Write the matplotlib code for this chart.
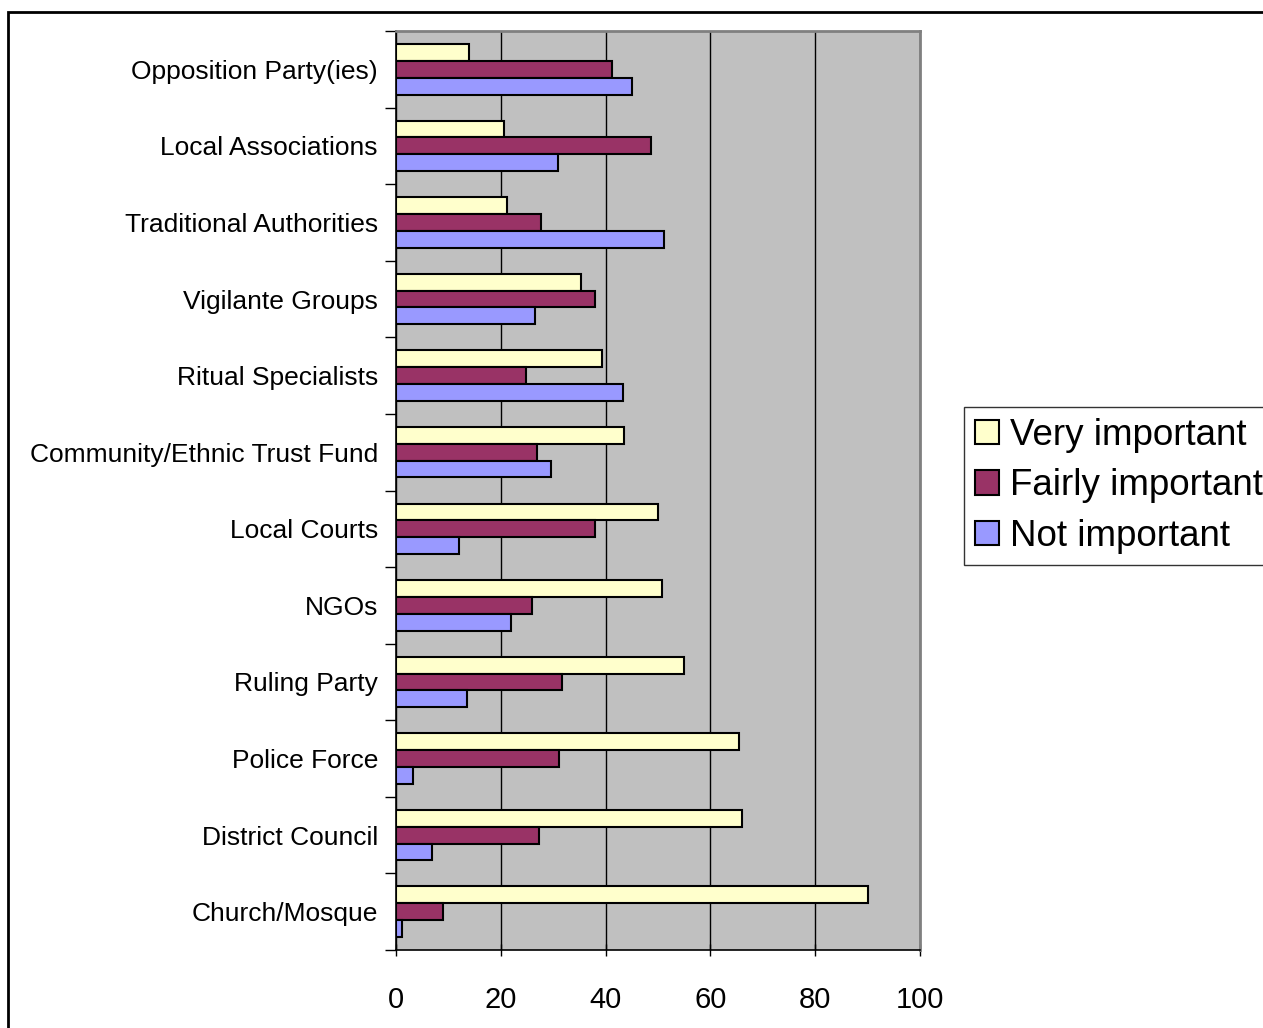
import matplotlib.pyplot as plt
import numpy as np
from matplotlib.patches import Rectangle

plt.rcParams["font.family"] = ["Liberation Sans", "DejaVu Sans"]

# bottom-to-top order on the y axis
categories = [
    "Church/Mosque",
    "District Council",
    "Police Force",
    "Ruling Party",
    "NGOs",
    "Local Courts",
    "Community/Ethnic Trust Fund",
    "Ritual Specialists",
    "Vigilante Groups",
    "Traditional Authorities",
    "Local Associations",
    "Opposition Party(ies)",
]
very_important = [90.1, 66.0, 65.5, 55.0, 50.8, 50.0, 43.6, 39.4, 35.4, 21.2, 20.6, 13.9]
fairly_important = [8.9, 27.3, 31.2, 31.6, 26.0, 38.0, 27.0, 24.8, 38.0, 27.7, 48.6, 41.2]
not_important = [1.1, 6.8, 3.2, 13.5, 22.0, 12.1, 29.5, 43.3, 26.6, 51.1, 30.9, 45.1]

series = [
    ("Very important", very_important, "#FFFFCC"),
    ("Fairly important", fairly_important, "#993366"),
    ("Not important", not_important, "#9999FF"),
]

W, H = 1263, 1028
fig = plt.figure(figsize=(W / 100, H / 100), dpi=100)

# outer chart frame, runs off the right and bottom edges
fig.patches.append(Rectangle((8 / W, -0.1), 1.2, 1 - 12 / H + 0.1,
                             transform=fig.transFigure, fill=False,
                             edgecolor="black", linewidth=2))

ax = fig.add_axes([396 / W, 1 - 950 / H, (920 - 396) / W, (950 - 31) / H])
ax.set_facecolor("#C0C0C0")

y = np.arange(len(categories))
h = 0.22
for i, (label, vals, color) in enumerate(series):
    ax.barh(y + h * (1 - i), vals, height=h, color=color, edgecolor="black",
            linewidth=1.5, label=label, zorder=3)

ax.set_xlim(0, 100)
ax.set_ylim(-0.5, len(categories) - 0.5)
ax.set_xticks(range(0, 101, 20))
ax.tick_params(axis="x", labelsize=21, length=8, width=1, direction="inout", pad=22)
ax.set_yticks(y)
ax.set_yticklabels(categories, fontsize=19)
ax.tick_params(axis="y", length=0, pad=13)
ax.set_yticks(np.arange(-0.5, len(categories), 1), minor=True)
ax.tick_params(axis="y", which="minor", length=8, width=1, direction="out")
ax.xaxis.grid(True, color="black", linewidth=1, zorder=1)
ax.set_axisbelow(True)

for side in ("top", "right"):
    ax.spines[side].set_color("#808080")
    ax.spines[side].set_linewidth(2)
for side in ("left", "bottom"):
    ax.spines[side].set_color("black")
    ax.spines[side].set_linewidth(1.2)

handles, labels = ax.get_legend_handles_labels()
leg = fig.legend(handles, labels, loc="upper left",
                 bbox_to_anchor=(964 / W, 1 - 407 / H), fontsize=26.5,
                 frameon=True, fancybox=False, edgecolor="black",
                 handlelength=0.65, handleheight=0.65, handletextpad=0.3,
                 labelspacing=0.42, borderpad=0.3, borderaxespad=0)
leg.get_frame().set_linewidth(1)

fig.savefig("out.png", dpi=100)
